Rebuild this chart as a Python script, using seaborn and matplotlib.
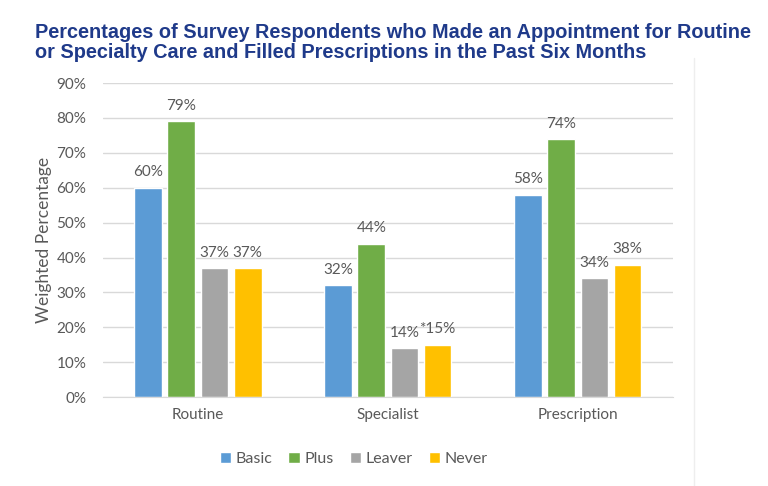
import matplotlib
matplotlib.use("Agg")
import matplotlib.pyplot as plt
import seaborn as sns
import pandas as pd
from matplotlib.lines import Line2D

# values
categories = ['Routine', 'Specialist', 'Prescription']
groups = ['Basic', 'Plus', 'Leaver', 'Never']
basic = [60, 32, 58]
plus = [79, 44, 74]
leaver = [37, 14, 34]
never = [37, 15, 38]
never_labels = ['37%', '*15%', '38%']
colors = ['#5B9BD5', '#70AD47', '#A5A5A5', '#FFC000']

rows = []
for g, vals in zip(groups, [basic, plus, leaver, never]):
    for c, v in zip(categories, vals):
        rows.append({'Category': c, 'Group': g, 'Value': v / 100})
df = pd.DataFrame(rows)

sns.set_style('white')
plt.rcParams['font.family'] = ['Lato', 'DejaVu Sans']

fig = plt.figure(figsize=(7.68, 4.86), dpi=100)
ax = fig.add_axes([0.134, 0.183, 0.742, 0.646])

sns.barplot(data=df, x='Category', y='Value', hue='Group', order=categories,
            hue_order=groups, palette=colors, width=0.7, gap=0.17,
            saturation=1, ax=ax, legend=True)

ax.set_ylim(0, 0.9)
ax.set_xlim(-0.5, 2.5)
ax.set_yticks([i / 10 for i in range(10)])
ax.set_yticklabels([f'{i * 10}%' for i in range(10)])
ax.yaxis.grid(True, color='#D9D9D9', linewidth=1)
ax.set_axisbelow(True)
for s in ['top', 'right', 'left']:
    ax.spines[s].set_visible(False)
ax.spines['bottom'].set_color('#D9D9D9')
ax.tick_params(axis='both', length=0, colors='#595959', labelsize=11)
ax.tick_params(axis='x', pad=8)
ax.tick_params(axis='y', pad=12)
ax.set_xlabel('')
ax.set_ylabel('Weighted Percentage', color='#595959', fontsize=12.5, labelpad=3)

label_sets = [[f'{v}%' for v in basic], [f'{v}%' for v in plus],
              [f'{v}%' for v in leaver], never_labels]
for cont, labs in zip(ax.containers, label_sets):
    ax.bar_label(cont, labels=labs, padding=6, color='#595959', fontsize=11)

ax.legend(loc='upper center', bbox_to_anchor=(0.44, -0.13), ncol=4, frameon=False,
          handlelength=0.7, handleheight=0.7, handletextpad=0.3, columnspacing=1.0,
          fontsize=11.5, labelcolor='#595959')

fig.text(0.046, 0.952, 'Percentages of Survey Respondents who Made an Appointment for Routine\n'
         'or Specialty Care and Filled Prescriptions in the Past Six Months',
         family='Liberation Sans', fontweight='bold', fontsize=14.3, color='#1F3A8A',
         va='top', ha='left', linespacing=1.05)

fig.add_artist(Line2D([0.904, 0.904], [0.0, 0.88], transform=fig.transFigure,
                      color='#EEEEEE', linewidth=1))

fig.savefig('out.png', dpi=100)
